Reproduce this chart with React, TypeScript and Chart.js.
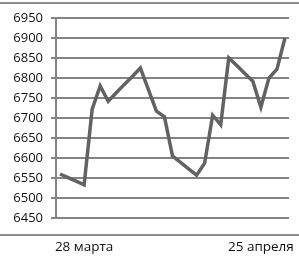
import React, { useEffect, useRef } from "react";
import { Chart, registerables } from "chart.js";

Chart.register(...registerables);

const xLabels: string[] = [
  "", "", "", "28 марта", "", "", "", "", "", "",
  "", "", "", "", "", "", "", "", "", "",
  "", "", "", "", "", "25 апреля", "", "", "",
];

const seriesValues: number[] = [
  6560, 6551, 6542, 6533, 6722, 6780, 6742, 6763, 6784, 6804,
  6825, 6771, 6717, 6703, 6605, 6589, 6573, 6557, 6587, 6707,
  6683, 6850, 6831, 6811, 6792, 6727, 6800, 6822, 6900,
];

const yMin = 6450;
const yMax = 6950;
const yStep = 50;

export default function App() {
  const ref = useRef<HTMLCanvasElement | null>(null);

  useEffect(() => {
    document.body.style.margin = "0";
    const canvas = ref.current;
    if (!canvas) return;
    const chart = new Chart(canvas, {
      type: "line",
      data: {
        labels: xLabels,
        datasets: [
          {
            data: seriesValues,
            borderColor: "#626262",
            borderWidth: 3.5,
            pointRadius: 0,
            tension: 0,
            fill: false,
          },
        ],
      },
      options: {
        animation: false,
        responsive: false,
        devicePixelRatio: 1,
        layout: { padding: { top: 18, right: 10, bottom: 0, left: 0 } },
        plugins: { legend: { display: false }, tooltip: { enabled: false } },
        scales: {
          x: {
            type: "category",
            offset: true,
            afterFit: (scale: any) => {
              scale.height = 40;
              scale.paddingLeft = 0;
              scale.paddingRight = 0;
            },
            grid: { display: false, drawTicks: false },
            border: { display: false },
            ticks: {
              autoSkip: false,
              maxRotation: 0,
              minRotation: 0,
              padding: 21,
              color: "#111",
              font: { family: "'Open Sans'", size: 13.5 },
            },
          },
          y: {
            min: yMin,
            max: yMax,
            afterFit: (scale: any) => {
              scale.width = 56;
            },
            ticks: {
              stepSize: yStep,
              autoSkip: false,
              padding: 8,
              color: "#111",
              font: { family: "'Open Sans'", size: 13 },
              callback: (v: any) => String(v),
            },
            grid: {
              color: "#848484",
              lineWidth: 2,
              tickLength: 5,
              drawTicks: true,
            },
            border: { display: true, color: "#848484", width: 2 },
          },
        },
      },
    });
    return () => chart.destroy();
  }, []);

  return (
    <div style={{ position: "fixed", left: 0, top: 0, width: 299, height: 258, background: "#fff" }}>
      <div style={{ position: "absolute", left: 0, top: 2, width: 299, height: 2, background: "#8c8c8c" }} />
      <div style={{ position: "absolute", left: 0, top: 234, width: 299, height: 2, background: "#8c8c8c" }} />
      <canvas ref={ref} width={299} height={258} style={{ position: "absolute", left: 0, top: 0 }} />
    </div>
  );
}
